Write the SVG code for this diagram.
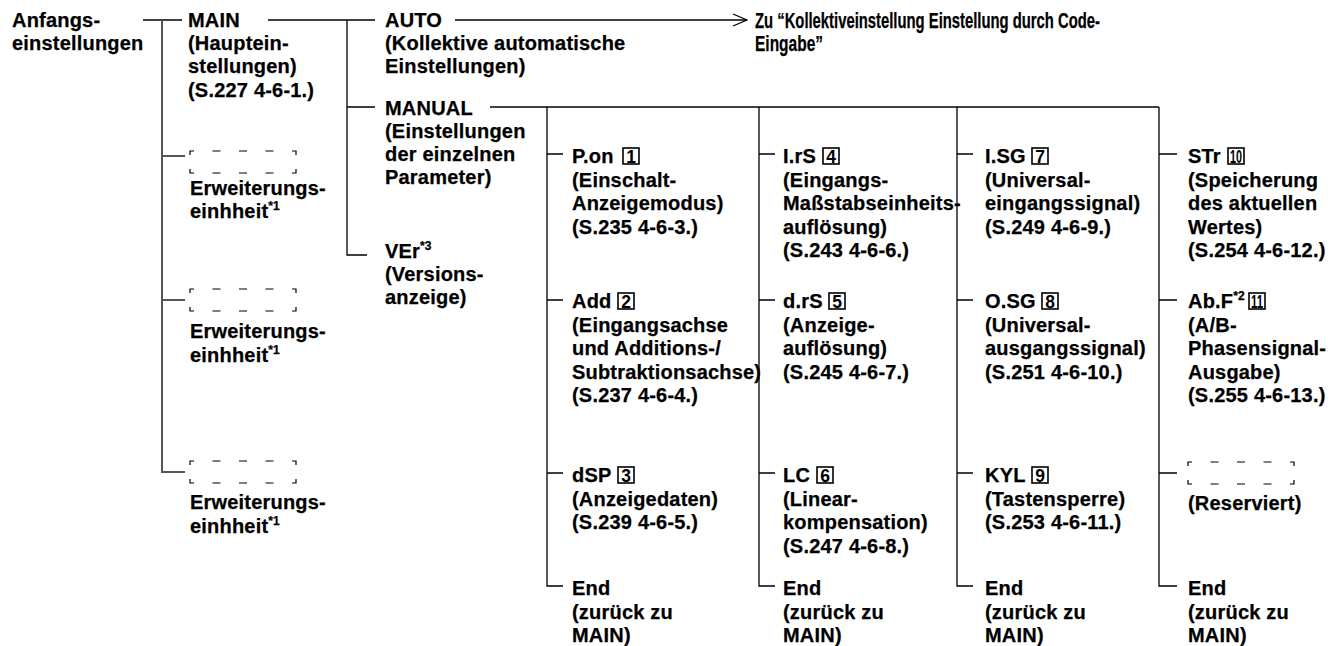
<svg xmlns="http://www.w3.org/2000/svg" width="1332" height="646" viewBox="0 0 1332 646">
<style>
.t{font-family:"Liberation Sans",Arial,Helvetica,sans-serif;font-weight:bold;font-size:20px;letter-spacing:0.2px;fill:#000;stroke:#000;stroke-width:0.25}
.big{font-size:22px;letter-spacing:0}
.sup{font-size:12px;letter-spacing:0}
.ln{stroke:#000;stroke-width:1.3;fill:none}
.lg{stroke:#555;stroke-width:2;fill:none}
.db{stroke:#000;stroke-width:1.2;fill:none}
.bx{fill:none;stroke:#000;stroke-width:1.6}
.num{font-family:"Liberation Sans",Arial,sans-serif;font-weight:bold;font-size:17.5px;text-anchor:middle;fill:#000}
</style>
<defs>
<g id="dbox">
<path class="db" d="M0,4V0H4M102,0H106V4M0,18V22H4M102,22H106V18M22.5,0H30.5M49,0H57M75.5,0H83.5M22.5,22H30.5M49,22H57M75.5,22H83.5"/>
</g>
<marker id="chev" markerWidth="16" markerHeight="14" refX="15" refY="7" orient="auto" markerUnits="userSpaceOnUse">
<path d="M1,1L15,7L1,13" fill="none" stroke="#000" stroke-width="1.3"/>
</marker>
</defs>

<g id="connectors">
<path class="ln" d="M143,20H182"/>
<path class="lg" d="M162,20V472H185M162,156H185M162,300H185"/>
<path class="ln" d="M268,20H375"/>
<path class="ln" d="M347,20V255H367M347,107H375"/>
<path class="ln" d="M455,20H747" marker-end="url(#chev)"/>
<path class="ln" d="M490,107H1159"/>
<path class="ln" d="M547,107V586H563M547,154H563M547,300H563M547,473H563"/>
<path class="ln" d="M759,107V586H775M759,154H775M759,300H775M759,473H775"/>
<path class="ln" d="M957,107V586H973M957,154H973M957,300H973M957,473H973"/>
<path class="ln" d="M1159,107V586H1177M1159,154H1177M1159,300H1177M1159,473H1177"/>
</g>

<g id="n-start"><text class="t" x="12" y="27">Anfangs-</text><text class="t" x="12" y="50">einstellungen</text></g>

<g id="n-main"><text class="t" x="188" y="27">MAIN</text><text class="t" x="188" y="50">(Hauptein-</text><text class="t" x="188" y="73">stellungen)</text><text class="t" x="188" y="97">(S.227 4-6-1.)</text></g>

<g id="n-ext1"><use href="#dbox" x="190" y="151"/><text class="t" x="190" y="195">Erweiterungs-</text><text class="t" x="190" y="218">einhheit<tspan class="sup" dy="-8">*1</tspan></text></g>
<g id="n-ext2"><use href="#dbox" x="190" y="289"/><text class="t" x="190" y="338">Erweiterungs-</text><text class="t" x="190" y="362">einhheit<tspan class="sup" dy="-8">*1</tspan></text></g>
<g id="n-ext3"><use href="#dbox" x="190" y="461"/><text class="t" x="190" y="509">Erweiterungs-</text><text class="t" x="190" y="533">einhheit<tspan class="sup" dy="-8">*1</tspan></text></g>

<g id="n-auto"><text class="t" x="385" y="27">AUTO</text><text class="t" x="385" y="50">(Kollektive automatische</text><text class="t" x="385" y="73">Einstellungen)</text></g>

<g id="n-code"><text class="t big" x="755" y="28" textLength="345" lengthAdjust="spacingAndGlyphs">Zu “Kollektiveinstellung Einstellung durch Code-</text><text class="t big" x="755" y="51" textLength="68" lengthAdjust="spacingAndGlyphs">Eingabe”</text></g>

<g id="n-manual"><text class="t" x="385" y="115">MANUAL</text><text class="t" x="385" y="138">(Einstellungen</text><text class="t" x="385" y="161">der einzelnen</text><text class="t" x="385" y="184">Parameter)</text></g>

<g id="n-ver"><text class="t" x="385" y="258">VEr<tspan class="sup" dy="-8">*3</tspan></text><text class="t" x="385" y="281">(Versions-</text><text class="t" x="385" y="304">anzeige)</text></g>

<g id="n-pon"><text class="t" x="572" y="163">P.on</text><rect class="bx" x="623" y="148" width="16" height="16"/><text class="num" x="631" y="162.5">1</text>
<text class="t" x="572" y="186.5">(Einschalt-</text><text class="t" x="572" y="210">Anzeigemodus)</text><text class="t" x="572" y="233.5">(S.235 4-6-3.)</text></g>

<g id="n-add"><text class="t" x="572" y="308">Add</text><rect class="bx" x="618" y="293" width="16" height="16"/><text class="num" x="626" y="307.5">2</text>
<text class="t" x="572" y="331.5">(Eingangsachse</text><text class="t" x="572" y="355">und Additions-/</text><text class="t" x="572" y="378.5">Subtraktionsachse)</text><text class="t" x="572" y="402">(S.237 4-6-4.)</text></g>

<g id="n-dsp"><text class="t" x="572" y="482">dSP</text><rect class="bx" x="618" y="467" width="16" height="16"/><text class="num" x="626" y="481.5">3</text>
<text class="t" x="572" y="505.5">(Anzeigedaten)</text><text class="t" x="572" y="529">(S.239 4-6-5.)</text></g>

<g id="n-end1"><text class="t" x="572" y="595">End</text><text class="t" x="572" y="618.5">(zurück zu</text><text class="t" x="572" y="642">MAIN)</text></g>

<g id="n-irs"><text class="t" x="783" y="163">I.rS</text><rect class="bx" x="823" y="148" width="16" height="16"/><text class="num" x="831" y="162.5">4</text>
<text class="t" x="783" y="186.5">(Eingangs-</text><text class="t" x="783" y="210">Maßstabseinheits-</text><text class="t" x="783" y="233.5">auflösung)</text><text class="t" x="783" y="257">(S.243 4-6-6.)</text></g>

<g id="n-drs"><text class="t" x="783" y="308">d.rS</text><rect class="bx" x="829" y="293" width="16" height="16"/><text class="num" x="837" y="307.5">5</text>
<text class="t" x="783" y="331.5">(Anzeige-</text><text class="t" x="783" y="355">auflösung)</text><text class="t" x="783" y="378.5">(S.245 4-6-7.)</text></g>

<g id="n-lc"><text class="t" x="783" y="482">LC</text><rect class="bx" x="817" y="467" width="16" height="16"/><text class="num" x="825" y="481.5">6</text>
<text class="t" x="783" y="505.5">(Linear-</text><text class="t" x="783" y="529">kompensation)</text><text class="t" x="783" y="552.5">(S.247 4-6-8.)</text></g>

<g id="n-end2"><text class="t" x="783" y="595">End</text><text class="t" x="783" y="618.5">(zurück zu</text><text class="t" x="783" y="642">MAIN)</text></g>

<g id="n-isg"><text class="t" x="985" y="163">I.SG</text><rect class="bx" x="1032" y="148" width="16" height="16"/><text class="num" x="1040" y="162.5">7</text>
<text class="t" x="985" y="186.5">(Universal-</text><text class="t" x="985" y="210">eingangssignal)</text><text class="t" x="985" y="233.5">(S.249 4-6-9.)</text></g>

<g id="n-osg"><text class="t" x="985" y="308">O.SG</text><rect class="bx" x="1042" y="293" width="16" height="16"/><text class="num" x="1050" y="307.5">8</text>
<text class="t" x="985" y="331.5">(Universal-</text><text class="t" x="985" y="355">ausgangssignal)</text><text class="t" x="985" y="378.5">(S.251 4-6-10.)</text></g>

<g id="n-kyl"><text class="t" x="985" y="482">KYL</text><rect class="bx" x="1032" y="467" width="16" height="16"/><text class="num" x="1040" y="481.5">9</text>
<text class="t" x="985" y="505.5">(Tastensperre)</text><text class="t" x="985" y="529">(S.253 4-6-11.)</text></g>

<g id="n-end3"><text class="t" x="985" y="595">End</text><text class="t" x="985" y="618.5">(zurück zu</text><text class="t" x="985" y="642">MAIN)</text></g>

<g id="n-str"><text class="t" x="1188" y="163">STr</text><rect class="bx" x="1228" y="148" width="16" height="16"/><text class="num" x="1236" y="162.5" textLength="12" lengthAdjust="spacingAndGlyphs">10</text>
<text class="t" x="1188" y="186.5">(Speicherung</text><text class="t" x="1188" y="210">des aktuellen</text><text class="t" x="1188" y="233.5">Wertes)</text><text class="t" x="1188" y="257">(S.254 4-6-12.)</text></g>

<g id="n-abf"><text class="t" x="1188" y="308">Ab.F<tspan class="sup" dy="-8">*2</tspan></text><rect class="bx" x="1249" y="293" width="16" height="16"/><text class="num" x="1257" y="307.5" textLength="12" lengthAdjust="spacingAndGlyphs">11</text>
<text class="t" x="1188" y="331.5">(A/B-</text><text class="t" x="1188" y="355">Phasensignal-</text><text class="t" x="1188" y="378.5">Ausgabe)</text><text class="t" x="1188" y="402">(S.255 4-6-13.)</text></g>

<g id="n-res"><use href="#dbox" x="1188" y="462"/><text class="t" x="1188" y="510">(Reserviert)</text></g>

<g id="n-end4"><text class="t" x="1188" y="595">End</text><text class="t" x="1188" y="618.5">(zurück zu</text><text class="t" x="1188" y="642">MAIN)</text></g>
</svg>
